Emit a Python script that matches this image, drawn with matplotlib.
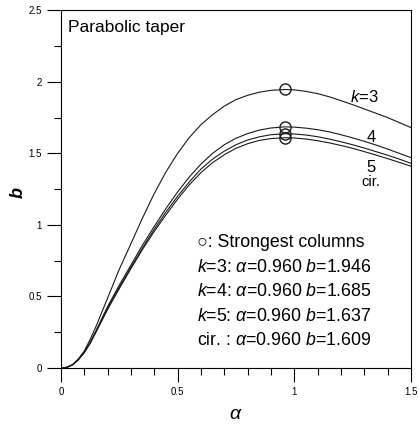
import numpy as np
import matplotlib.pyplot as plt

plt.rcParams['font.family'] = ['Liberation Sans', 'DejaVu Sans']
plt.rcParams['mathtext.fontset'] = 'custom'
plt.rcParams['mathtext.it'] = 'Liberation Sans:italic'
plt.rcParams['mathtext.rm'] = 'Liberation Sans'

# curve values
alpha = [0.0, 0.025, 0.05, 0.075, 0.1, 0.125, 0.15, 0.2, 0.25, 0.3, 0.35, 0.4,
         0.45, 0.5, 0.55, 0.6, 0.65, 0.7, 0.75, 0.8, 0.85, 0.9, 0.96, 1.0,
         1.05, 1.1, 1.15, 1.2, 1.25, 1.3, 1.35, 1.4, 1.45, 1.5]
b_k3 = [0.0, 0.005, 0.025, 0.065, 0.12, 0.20, 0.29, 0.49, 0.69, 0.87, 1.05, 1.22,
        1.37, 1.50, 1.61, 1.70, 1.77, 1.83, 1.875, 1.905, 1.927, 1.94, 1.946, 1.943,
        1.933, 1.917, 1.895, 1.868, 1.84, 1.81, 1.78, 1.75, 1.715, 1.68]
b_k4 = [0.0, 0.005, 0.023, 0.06, 0.11, 0.18, 0.26, 0.43, 0.58, 0.72, 0.86, 0.99,
        1.115, 1.23, 1.335, 1.425, 1.50, 1.56, 1.605, 1.638, 1.662, 1.677, 1.685, 1.683,
        1.676, 1.665, 1.65, 1.63, 1.608, 1.584, 1.558, 1.53, 1.50, 1.47]
b_k5 = [0.0, 0.005, 0.023, 0.06, 0.11, 0.175, 0.255, 0.42, 0.565, 0.705, 0.84, 0.97,
        1.09, 1.20, 1.30, 1.39, 1.46, 1.515, 1.56, 1.593, 1.615, 1.630, 1.637, 1.635,
        1.628, 1.616, 1.60, 1.581, 1.56, 1.537, 1.512, 1.487, 1.46, 1.43]
b_cir = [0.0, 0.005, 0.022, 0.058, 0.108, 0.172, 0.25, 0.41, 0.555, 0.695, 0.83, 0.955,
         1.07, 1.18, 1.28, 1.365, 1.435, 1.49, 1.535, 1.567, 1.59, 1.603, 1.609, 1.607,
         1.60, 1.588, 1.573, 1.555, 1.535, 1.512, 1.488, 1.463, 1.437, 1.41]

opt_alpha = [0.960, 0.960, 0.960, 0.960]
opt_b = [1.946, 1.685, 1.637, 1.609]
opt_names = ['$k$=3', '$k$=4', '$k$=5', 'cir. ']

fig = plt.figure(figsize=(4.19, 4.24), dpi=100)
ax = fig.add_axes([0.1456, 0.132, 0.835, 0.844])

for b in [b_k3, b_k4, b_k5, b_cir]:
    ax.plot(alpha, b, color='#1a1a1a', lw=0.8)
ax.plot(opt_alpha, opt_b, 'o', mfc='none', mec='#1a1a1a', ms=8, mew=1.0)

ax.set_xlim(0, 1.5)
ax.set_ylim(0, 2.5)
ax.set_xticks([0, 0.5, 1, 1.5])
ax.set_xticklabels(['0', '0.5', '1', '1.5'])
ax.set_xticks(np.arange(0.1, 1.5, 0.1), minor=True)
ax.set_yticks([0, 0.5, 1, 1.5, 2, 2.5])
ax.set_yticklabels(['0', '0.5', '1', '1.5', '2', '2.5'])
ax.set_yticks([0.25, 0.75, 1.25, 1.75, 2.25], minor=True)
ax.tick_params(which='major', direction='out', length=10, width=0.8, labelsize=7, pad=4)
ax.tick_params(which='minor', direction='out', length=5, width=0.8)
for s in ax.spines.values():
    s.set_linewidth(0.8)

ax.set_xlabel(r'$\alpha$', fontsize=14, labelpad=6)
ax.set_ylabel('b', fontsize=13, style='italic', fontweight='bold')
ax.yaxis.set_label_coords(-0.098, 0.49)

ax.text(0.03, 2.43, 'Parabolic taper', fontsize=12.5, va='top')
ax.text(1.30, 1.89, '$k$=3', fontsize=12, ha='center', va='center')
ax.text(1.33, 1.61, '4', fontsize=12, ha='center', va='center')
ax.text(1.33, 1.40, '5', fontsize=12, ha='center', va='center')
ax.text(1.33, 1.30, 'cir.', fontsize=10.5, ha='center', va='center')

y0 = 0.875
ax.text(0.585, y0, '\u25cb: Strongest columns', fontsize=12.8, va='center')
for i, (name, a, bv) in enumerate(zip(opt_names, opt_alpha, opt_b)):
    ax.text(0.585, y0 - 0.171 * (i + 1),
            f'{name}: $\\alpha$={a:.3f} $b$={bv:.3f}', fontsize=12.8, va='center')

fig.savefig('out.png', dpi=100)
